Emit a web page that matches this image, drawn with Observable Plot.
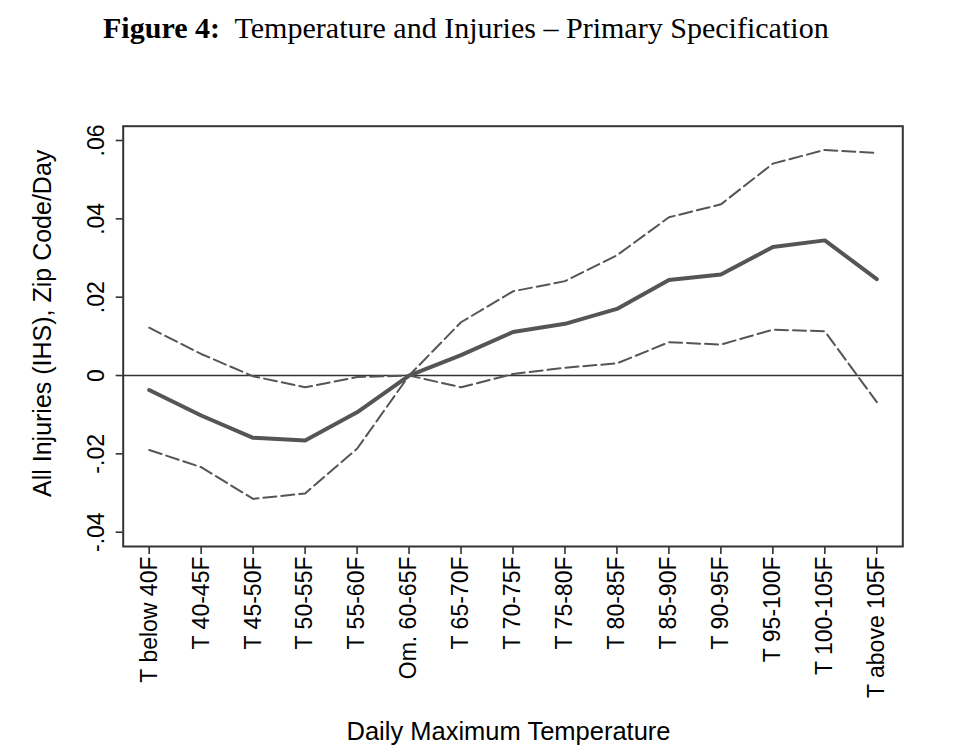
<!DOCTYPE html>
<html>
<head>
<meta charset="utf-8">
<script src="https://cdn.jsdelivr.net/npm/d3@7"></script>
<script src="https://cdn.jsdelivr.net/npm/@observablehq/plot@0.6"></script>
<style>
  html, body { margin: 0; padding: 0; background: #fff; }
  #title { position: relative; height: 60px; }
  #title span.t { position: absolute; left: 103px; top: 13px; font-family: "Liberation Serif", "Times New Roman", serif; font-size: 26px; line-height: 1; white-space: nowrap; color: #000; }
  #chart svg { display: block; }
</style>
</head>
<body>
<div id="title"><span class="t"><b>Figure 4:</b>&nbsp; Temperature and Injuries – Primary Specification</span></div>
<div id="chart"></div>
<script>
const categories = ["T below 40F","T 40-45F","T 45-50F","T 50-55F","T 55-60F","Om. 60-65F","T 65-70F","T 70-75F","T 75-80F","T 80-85F","T 85-90F","T 90-95F","T 95-100F","T 100-105F","T above 105F"];
const estimate = [-0.0037,-0.0102,-0.0159,-0.0166,-0.0094,0,0.0052,0.0111,0.0132,0.0170,0.0244,0.0258,0.0328,0.0345,0.0246];
const upperCI  = [0.0122,0.0055,-0.0002,-0.0030,-0.0004,0,0.0136,0.0215,0.0241,0.0307,0.0404,0.0437,0.0541,0.0576,0.0568];
const lowerCI  = [-0.0190,-0.0234,-0.0315,-0.0301,-0.0187,0,-0.0030,0.0004,0.0020,0.0031,0.0085,0.0079,0.0117,0.0113,-0.0068];
const yTicks = [-0.04,-0.02,0,0.02,0.04,0.06];
const yTickLabels = ["-.04","-.02","0",".02",".04",".06"];
const yTitle = "All Injuries (IHS), Zip Code/Day";
const xTitle = "Daily Maximum Temperature";

const rows = categories.map((c, i) => ({cat: c, est: estimate[i], hi: upperCI[i], lo: lowerCI[i]}));
const tickLabel = new Map(yTicks.map((t, i) => [t, yTickLabels[i]]));

const chart = Plot.plot({
  width: 966,
  height: 696,
  marginLeft: 122.7,
  marginRight: 63.7,
  marginTop: 65.7,
  marginBottom: 210,
  style: {fontFamily: "'Liberation Sans', Arial, sans-serif", background: "#fff", color: "#000"},
  x: {type: "point", domain: categories, padding: 0.5, round: false, axis: null},
  y: {domain: [-0.04365, 0.06365], axis: null},
  marks: [
    Plot.ruleY([0], {stroke: "#333", strokeWidth: 1.6}),
    Plot.line(rows, {x: "cat", y: "hi", stroke: "#555", strokeWidth: 2, strokeDasharray: "13,5"}),
    Plot.line(rows, {x: "cat", y: "lo", stroke: "#555", strokeWidth: 2, strokeDasharray: "13,5"}),
    Plot.line(rows, {x: "cat", y: "est", stroke: "#555", strokeWidth: 4}),
    Plot.frame({stroke: "#333", strokeWidth: 2}),
    Plot.axisY({ticks: yTicks, tickFormat: d => tickLabel.get(d), tickSize: 7, tickPadding: 12, tickRotate: -90,
      textAnchor: "middle", lineAnchor: "bottom", fontSize: 23, label: null, stroke: "#333", strokeWidth: 1.6, fill: "#000"}),
    Plot.axisX({tickSize: 8, tickPadding: 2, tickRotate: -90, textAnchor: "end", lineAnchor: "middle",
      fontSize: 23, label: null, stroke: "#333", strokeWidth: 1.6, fill: "#000"}),
    Plot.text([yTitle], {text: d => d, frameAnchor: "left", rotate: -90, textAnchor: "middle", lineAnchor: "bottom",
      dx: -72.7, dy: -13, fontSize: 25, fill: "#000"}),
    Plot.text([xTitle], {text: d => d, frameAnchor: "bottom", textAnchor: "middle", lineAnchor: "bottom",
      dx: -4.5, dy: 193, fontSize: 25.5, fill: "#000"})
  ]
});
document.getElementById("chart").appendChild(chart);

// fit the title to the reference width
const t = document.querySelector("#title span.t");
const w = t.getBoundingClientRect().width;
t.style.fontSize = (26 * 726 / w) + "px";
</script>
</body>
</html>
